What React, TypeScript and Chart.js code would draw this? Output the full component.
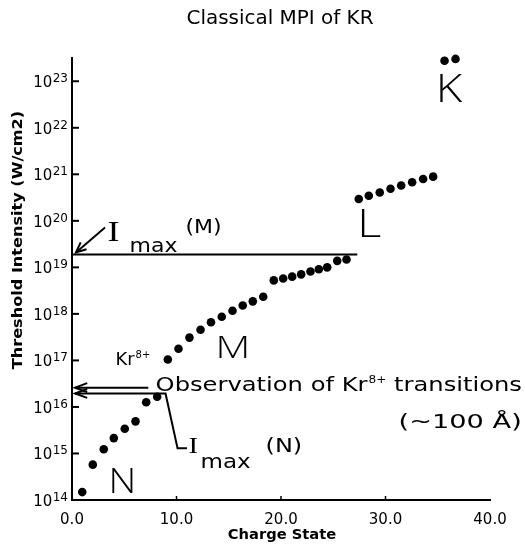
import React, { useEffect, useRef } from "react";
import { Chart, registerables } from "chart.js";

Chart.register(...registerables);

const chartTitle = "Classical MPI of KR";
const xAxisTitle = "Charge State";
const yAxisTitle = "Threshold Intensity (W/cm2)";

const xTickValues = [0, 10, 20, 30, 40];
const yTickExponents = [14, 15, 16, 17, 18, 19, 20, 21, 22, 23];

const nShellCharge = [0.98, 1.99, 3.04, 4.0, 5.05, 6.08, 7.1, 8.15];
const nShellIntensity = [1.48e14, 5.75e14, 1.23e15, 2.14e15, 3.39e15, 4.9e15, 1.26e16, 1.66e16];

const mShellCharge = [9.17, 10.19, 11.24, 12.3, 13.3, 14.33, 15.36, 16.34, 17.3, 18.3, 19.31, 20.21, 21.07, 21.93, 22.82, 23.62, 24.42, 25.38, 26.27];
const mShellIntensity = [1.05e17, 1.78e17, 3.09e17, 4.57e17, 6.61e17, 8.71e17, 1.17e18, 1.51e18, 1.86e18, 2.34e18, 5.25e18, 5.75e18, 6.31e18, 7.08e18, 8.13e18, 9.12e18, 1.0e19, 1.38e19, 1.48e19];

const lShellCharge = [27.44, 28.4, 29.45, 30.48, 31.5, 32.55, 33.6, 34.56];
const lShellIntensity = [2.95e20, 3.47e20, 4.07e20, 4.9e20, 5.75e20, 6.76e20, 7.94e20, 8.91e20];

const kShellCharge = [35.65, 36.7];
const kShellIntensity = [2.75e23, 3.02e23];

const imaxMIntensity = 1.9e19;
const imaxMEndCharge = 27.3;
const imaxNIntensity = 1.95e16;
const observationIntensity = 2.6e16;

const FONT = "'DejaVu Sans', 'Liberation Sans', sans-serif";

function toPoints(xs: number[], ys: number[]) {
  return xs.map((x, i) => ({ x, y: ys[i] }));
}

const annotationPlugin = {
  id: "mpiAnnotations",
  afterDraw(chart: any) {
    const { ctx, chartArea, scales } = chart;
    const xs = scales.x;
    const ys = scales.y;
    const X = (v: number) => xs.getPixelForValue(v);
    const Y = (v: number) => ys.getPixelForValue(v);
    const line = (pts: number[][], w = 2) => {
      ctx.beginPath();
      ctx.lineWidth = w;
      ctx.moveTo(pts[0][0], pts[0][1]);
      for (let i = 1; i < pts.length; i++) ctx.lineTo(pts[i][0], pts[i][1]);
      ctx.stroke();
    };
    const head = (x1: number, y1: number, x2: number, y2: number, len = 11, ang = 0.42) => {
      const a = Math.atan2(y2 - y1, x2 - x1);
      line([
        [x2 - len * Math.cos(a - ang), y2 - len * Math.sin(a - ang)],
        [x2, y2],
        [x2 - len * Math.cos(a + ang), y2 - len * Math.sin(a + ang)],
      ], 2);
    };
    const text = (s: string, x: number, y: number, font: string, align: CanvasTextAlign = "left", sx = 1) => {
      ctx.save();
      ctx.font = font;
      ctx.textAlign = align;
      ctx.textBaseline = "alphabetic";
      ctx.translate(x, y);
      ctx.scale(sx, 1);
      ctx.fillText(s, 0, 0);
      const w = ctx.measureText(s).width * sx;
      ctx.restore();
      return w;
    };

    ctx.save();
    ctx.strokeStyle = "#000";
    ctx.fillStyle = "#000";
    ctx.lineCap = "butt";

    // inward tick marks
    ys.ticks.forEach((t: any) => {
      const y = Y(t.value);
      line([[chartArea.left, y], [chartArea.left + 7, y]], 2);
    });
    xs.ticks.forEach((t: any) => {
      if (t.value > 0 && t.value < 40) {
        const x = X(t.value);
        line([[x, chartArea.bottom], [x, chartArea.bottom - 4]], 1.5);
      }
    });

    // y tick labels: 10 with raised exponent
    ys.ticks.forEach((t: any) => {
      const e = String(Math.round(Math.log10(t.value)));
      const y = Y(t.value);
      ctx.font = `12px ${FONT}`;
      const ew = ctx.measureText(e).width;
      const right = chartArea.left - 4;
      text(e, right - ew, y + 1, `12px ${FONT}`);
      text("10", right - ew - 0.5, y + 6, `15px ${FONT}`, "right");
    });

    // title
    text(chartTitle, 280, 24, `19px ${FONT}`, "center", 1.05);
    // axis titles
    text(xAxisTitle, 282, 539, `bold 14px ${FONT}`, "center", 1.05);
    ctx.save();
    ctx.translate(22, 240);
    ctx.rotate(-Math.PI / 2);
    text(yAxisTitle, 0, 0, `bold 14px ${FONT}`, "center", 1.15);
    ctx.restore();

    // Imax(M) horizontal line + arrow
    const yM = Y(imaxMIntensity);
    line([[X(0), yM], [X(imaxMEndCharge), yM]], 2);
    line([[X(0) + 33, yM - 27], [X(0) + 4, yM - 2]], 2);
    head(X(0) + 33, yM - 27, X(0) + 4, yM - 2);
    // Imax(M) label
    const ixM = X(3.4);
    text("I", ixM, yM - 13, `30px 'Liberation Serif', serif`, "left", 1.2);
    text("max", ixM + 22, yM - 2, `20px ${FONT}`, "left", 1.1);
    text("(M)", ixM + 78, yM - 21, `20px ${FONT}`, "left", 1.1);

    // Observation arrow
    const yO = Y(observationIntensity);
    line([[X(7.3), yO], [X(0) + 3, yO]], 2);
    head(X(7.3), yO, X(0) + 3, yO, 13, 0.35);
    // Imax(N) polyline
    const yN = Y(imaxNIntensity);
    line([[X(0) + 3, yN], [X(8.95), yN], [X(10.1), Y(1.29e15)], [X(11.0), Y(1.29e15)]], 2);
    head(X(4), yN, X(0) + 3, yN, 13, 0.35);

    // Observation text
    const sx = 1.21;
    let ox = X(8.0);
    const oy = Y(2.24e16);
    ox += text("Observation of Kr", ox, oy, `20px ${FONT}`, "left", sx);
    ox += text("8+", ox + 1, oy - 8, `11px ${FONT}`, "left", 1.1) + 1;
    text(" transitions", ox, oy, `20px ${FONT}`, "left", sx);
    text("(~100 Å)", X(31.25), Y(3.6e15), `20px ${FONT}`, "left", 1.36);

    // Imax(N) label
    const ixN = X(11.15);
    const iyN = Y(1.0e15);
    text("I", ixN, iyN, `24px 'Liberation Serif', serif`, "left", 1.2);
    text("max", ixN + 12, iyN + 15, `20px ${FONT}`, "left", 1.15);
    text("(N)", ixN + 77, iyN - 1, `20px ${FONT}`, "left", 1.2);

    // Kr8+ label
    let kx = X(4.17);
    const ky = Y(7.8e16);
    kx += text("Kr", kx, ky, `17px ${FONT}`, "left", 1.05);
    text("8+", kx + 1, ky - 7, `10px ${FONT}`);

    // shell letters
    const big = (s: string, x: number, y: number, size: number, stretch = 1) =>
      text(s, X(x), Y(y), `300 ${size}px 'Open Sans', ${FONT}`, "left", stretch);
    big("K", 34.8, 3.5e22, 38, 1.2);
    big("L", 27.3, 4.6e19, 39, 1.2);
    big("M", 13.73, 1.1e17, 31, 1.3);
    big("N", 3.49, 1.38e14, 35, 1.1);

    ctx.restore();
  },
};

export default function App() {
  const ref = useRef<HTMLCanvasElement | null>(null);
  useEffect(() => {
    if (!ref.current) return;
    const pointStyle = {
      backgroundColor: "#000",
      borderColor: "#000",
      borderWidth: 0,
      pointRadius: 4.3,
      pointHoverRadius: 4.3,
      showLine: false,
      clip: false as any,
    };
    const chart = new Chart(ref.current, {
      type: "scatter",
      data: {
        datasets: [
          { label: "N", data: toPoints(nShellCharge, nShellIntensity), ...pointStyle },
          { label: "M", data: toPoints(mShellCharge, mShellIntensity), ...pointStyle },
          { label: "L", data: toPoints(lShellCharge, lShellIntensity), ...pointStyle },
          { label: "K", data: toPoints(kShellCharge, kShellIntensity), ...pointStyle },
        ],
      },
      options: {
        animation: false,
        responsive: false,
        events: [],
        layout: { padding: { top: 58, right: 35, left: 0, bottom: 0 } },
        plugins: { legend: { display: false }, title: { display: false }, tooltip: { enabled: false } },
        scales: {
          x: {
            type: "linear",
            min: 0,
            max: 40,
            afterBuildTicks: (s: any) => {
              s.ticks = xTickValues.map((v) => ({ value: v }));
            },
            afterFit: (s: any) => {
              s.height = 44;
            },
            grid: { display: false, drawTicks: false },
            border: { display: true, color: "#000", width: 2 },
            ticks: {
              color: "#000",
              padding: 11,
              font: { family: FONT, size: 15 },
              maxRotation: 0,
              callback: (v: any) => Number(v).toFixed(1),
            },
          },
          y: {
            type: "logarithmic",
            min: 1e14,
            max: 3.16e23,
            afterBuildTicks: (s: any) => {
              s.ticks = yTickExponents.map((e) => ({ value: Number("1e" + e) }));
            },
            afterFit: (s: any) => {
              s.width = 72;
            },
            grid: { display: false, drawTicks: false },
            border: { display: true, color: "#000", width: 2 },
            ticks: { display: false },
          },
        },
      },
      plugins: [annotationPlugin],
    });
    return () => chart.destroy();
  }, []);
  return (
    <div style={{ position: "absolute", left: 0, top: 0, width: 525, height: 544, background: "#fff" }}>
      <canvas ref={ref} width={525} height={544} style={{ display: "block" }} />
    </div>
  );
}
